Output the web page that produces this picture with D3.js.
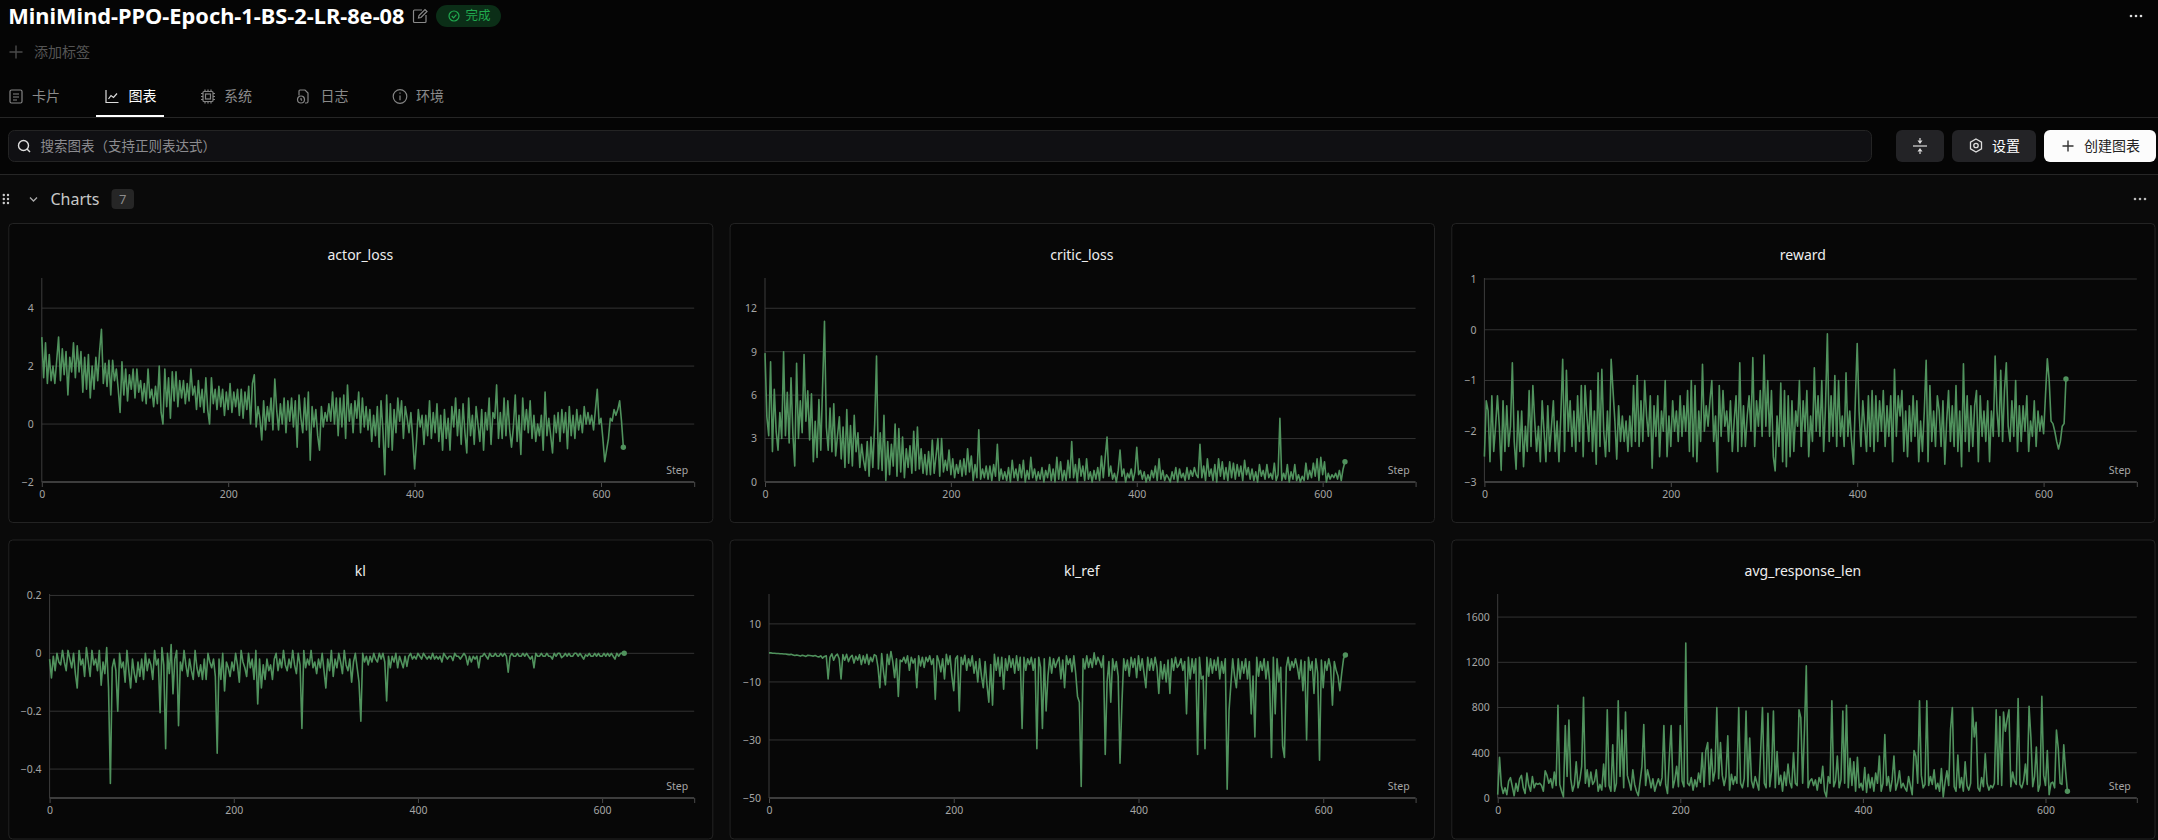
<!DOCTYPE html>
<html>
<head>
<meta charset="utf-8">
<script src="https://cdn.jsdelivr.net/npm/d3@7"></script>
<style>
  html, body { margin: 0; padding: 0; background: #050505; overflow: hidden; }
  svg { display: block; }
  text { font-family: "Noto Sans", "Noto Sans CJK SC", sans-serif; }
  .cjk { font-family: "Noto Sans CJK SC", sans-serif; }
  .axis path.domain { display: none; }
</style>
</head>
<body>
<div id="page"></div>
<script>
// one reading every 2 steps; each row is 50 steps
const actorLoss = [
  3.0,1.6,2.8,1.4,2.4, 1.5,2.0,1.4,2.2,3.0, 1.5,2.6,1.7,2.5,1.0, 2.3,1.8,2.8,1.6,2.7, 1.8,2.5,1.1,2.3,1.2,
  2.4,0.9,2.0,1.2,2.3, 1.5,2.5,3.27,1.4,2.1, 1.3,2.2,1.0,2.2,1.5, 1.9,1.2,0.4,2.15,1.0, 1.9,0.8,1.7,1.2,1.9,
  0.9,1.9,1.1,1.5,0.8, 1.4,0.7,1.9,0.9,1.2, 0.6,1.3,0.7,2.0,0.4, 0.0,1.9,0.6,1.6,0.2, 1.8,0.8,1.8,0.6,1.5,
  0.9,1.5,0.7,1.4,0.8, 1.9,1.0,1.3,0.5,1.5, 0.6,1.2,0.4,1.6,0.5, 0.0,1.6,0.7,1.2,0.5, 1.3,0.6,1.2,0.3,1.1,
  0.5,1.4,0.4,1.1,0.6, 1.2,0.3,1.2,0.2,1.1, 0.5,1.3,0.0,1.4,1.7, -0.1,0.6,0.2,-0.55,0.8, -0.2,0.6,0.1,0.9,-0.2,
  1.55,0.5,-0.2,0.7,0.0, 0.9,-0.3,0.8,0.1,0.9, -0.1,0.8,-0.8,1.0,0.2, -0.3,0.9,-0.2,1.1,-1.25, 0.6,-0.1,0.5,-0.4,-0.9,
  0.6,-0.1,0.4,0.1,0.7, 0.1,1.1,0.0,0.9,-0.4, 0.9,-0.1,1.0,-0.5,1.35, 0.1,0.7,-0.3,0.8,0.2, 1.1,-0.3,0.9,-0.1,0.6,
  -0.2,0.5,-0.6,0.3,-0.4, 0.6,-0.8,0.8,-0.2,-1.75, 1.0,-0.8,0.7,-0.9,0.5, -0.3,0.9,0.1,0.8,-0.5, 0.6,0.2,-0.3,0.4,-0.5,
  -1.55,-0.6,0.5,-0.1,0.3, -0.7,0.3,-0.4,0.8,-0.5, 0.4,-0.3,0.7,-0.6,0.3, -0.9,0.5,-0.5,0.2,-0.9, 0.6,-0.1,0.9,-0.4,0.5,
  -0.7,0.7,-0.3,-1.0,0.9, -0.4,0.3,-0.7,0.6,0.0, -0.6,0.5,-0.9,0.4,-0.2, 0.9,-0.7,0.4,0.2,1.35, -0.5,0.4,-0.5,0.9,-0.4,
  0.8,-0.2,-0.8,-0.1,1.0, -0.6,0.3,-1.05,0.9,-0.2, 0.5,-0.3,0.8,-0.5,0.3, -0.6,0.0,-0.4,0.3,-0.9, 1.1,-0.4,0.2,-0.4,-1.0,
  0.3,-0.3,0.4,-0.6,0.5, -0.3,0.4,-0.85,0.6,-0.4, 0.3,-0.5,0.5,-0.2,0.3, -0.3,0.6,0.0,0.4,0.0, 0.3,-0.2,0.5,1.2,0.0,
  0.2,-0.5,-1.3,-0.9,-0.5, 0.2,0.1,0.5,0.3,0.5, 0.8,0.1,-0.8
];
const criticLoss = [
  8.9,4.5,3.2,8.3,2.1, 6.4,3.5,2.2,4.8,3.0, 9.0,3.2,6.2,2.7,7.2, 3.3,1.1,8.2,3.0,5.6, 3.4,8.8,4.2,6.3,2.9,
  6.1,1.4,4.2,1.7,5.7, 2.2,6.7,11.1,3.8,2.2, 5.1,2.1,5.4,1.8,3.2, 4.5,1.6,3.8,1.0,5.0, 1.3,3.9,1.1,4.6,2.1,
  3.4,1.0,2.6,1.5,0.8, 2.8,0.4,3.1,1.0,4.0, 8.7,0.9,3.4,0.8,4.6, 0.1,2.8,0.5,2.6,1.1, 4.0,0.4,3.7,0.7,3.1,
  0.3,2.3,1.0,2.5,0.6, 3.5,0.8,3.8,0.9,2.3, 0.6,1.9,0.5,2.1,0.5, 2.9,0.6,1.8,3.0,0.4, 3.0,0.7,1.5,0.8,2.2,
  0.5,1.6,0.3,1.2,0.6, 1.5,0.4,1.6,0.5,2.3, 0.7,1.8,0.1,1.2,0.3, 3.6,0.2,0.9,0.3,1.1, 0.2,1.1,0.1,1.2,0.4,
  2.6,0.1,0.9,0.2,0.7, 0.1,1.0,0.0,1.5,0.3, 0.9,0.1,1.2,0.3,1.5, 0.0,0.8,0.2,1.7,0.3, 0.9,0.1,0.7,0.2,1.0,
  0.0,0.8,0.3,1.2,0.1, 0.9,0.0,1.7,0.2,1.4, 0.1,0.8,0.1,1.5,0.3, 2.8,0.3,1.2,0.0,1.6, 0.4,1.1,0.1,1.6,0.2,
  0.7,0.0,0.8,0.2,1.0, 0.1,1.8,0.3,1.7,3.1, 0.4,1.1,0.2,0.6,0.0, 0.8,2.2,0.4,0.9,0.0, 0.6,0.3,0.9,0.1,0.7,
  2.4,0.5,0.8,0.2,0.7, 0.0,0.5,0.1,0.8,0.3, 1.1,0.1,1.6,0.2,0.8, 0.1,0.5,0.3,0.0,0.7, 0.2,1.0,0.0,0.9,0.3,
  0.6,0.1,1.0,0.2,0.8, 0.4,1.0,0.5,0.3,2.6, 0.3,1.1,0.1,1.6,0.4, 0.9,0.1,1.2,0.0,1.6, 0.4,1.4,0.2,1.0,0.1,
  1.4,0.3,1.3,0.2,1.2, 0.4,1.1,0.1,1.5,0.5, 1.0,0.2,0.9,0.1,0.7, 0.0,1.2,0.4,0.8,0.2, 1.2,0.3,0.6,0.2,1.3,
  0.1,0.5,4.4,0.1,0.6, 0.2,1.2,0.0,0.7,0.2, 1.2,0.1,0.5,0.0,0.4, 0.1,1.3,0.2,0.8,0.3, 1.3,0.4,1.6,0.1,1.7,
  0.5,1.4,0.0,0.6,0.2, 0.5,0.3,0.6,0.2,0.8, 0.1,0.9,1.4
];
const rewardValues = [
  -2.5,-1.4,-1.6,-2.6,-1.3, -2.4,-1.9,-1.3,-1.9,-2.77, -1.4,-2.4,-1.5,-2.3,-1.9, -0.65,-2.2,-2.75,-1.6,-2.4, -1.6,-2.7,-1.9,-2.4,-1.2,
  -2.3,-1.1,-1.8,-2.4,-1.9, -2.6,-1.4,-2.0,-2.6,-1.5, -2.4,-1.9,-1.4,-2.4,-1.8, -2.6,-1.7,-0.58,-2.4,-0.8, -2.0,-1.4,-2.3,-1.6,-2.4,
  -1.3,-2.2,-1.1,-2.5,-1.1, -1.7,-2.2,-1.2,-2.4,-1.6, -2.65,-0.85,-2.3,-0.78,-2.0, -2.5,-1.6,-2.4,-0.58,-1.2, -1.8,-2.55,-1.5,-2.2,-1.7,
  -2.2,-1.8,-2.4,-1.7,-2.3, -1.1,-2.2,-0.9,-2.3,-1.4, -2.2,-1.0,-1.7,-2.1,-1.3, -2.73,-1.5,-2.1,-1.3,-2.5, -1.6,-2.0,-1.0,-2.5,-1.7,
  -2.3,-1.4,-2.0,-1.6,-2.2, -1.3,-2.1,-1.5,-2.0,-1.2, -2.4,-1.0,-2.5,-1.1,-2.6, -1.6,-2.2,-0.68,-2.0,-1.5, -1.9,-1.4,-1.0,-2.2,-1.7,
  -2.8,-1.1,-2.1,-1.2,-1.9, -1.6,-2.2,-1.4,-2.4,-1.8, -1.3,-2.4,-0.65,-2.3,-1.5, -2.3,-1.7,-1.3,-2.0,-0.55, -2.3,-1.4,-1.9,-1.2,-2.1,
  -0.5,-1.9,-1.0,-2.1,-1.2, -2.5,-2.78,-1.7,-2.3,-1.05, -2.6,-1.2,-2.7,-1.3,-2.5, -1.4,-2.4,-1.6,-1.9,-1.0, -2.3,-1.4,-2.0,-1.2,-2.5,
  -1.7,-2.2,-0.75,-2.0,-1.3, -2.1,-1.0,-2.4,-1.5,-0.08, -2.2,-1.3,-2.1,-0.9,-2.3, -1.0,-2.1,-1.7,-2.3,-0.85, -2.1,-1.6,-2.2,-2.65,-1.4,
  -0.27,-1.6,-2.3,-1.4,-1.9, -2.4,-1.3,-2.3,-1.2,-2.4, -1.3,-2.2,-1.4,-2.0,-1.2, -2.3,-1.5,-2.1,-1.3,-2.6, -0.78,-2.1,-1.3,-1.7,-1.2,
  -2.4,-1.6,-2.5,-1.5,-2.2, -1.3,-2.1,-1.4,-2.6,-1.8, -2.4,-1.6,-0.6,-2.6,-1.1, -2.2,-1.6,-2.3,-1.3,-1.6, -2.3,-1.4,-2.65,-1.8,-1.2,
  -2.2,-1.5,-2.3,-1.1,-2.4, -1.6,-2.7,-0.67,-2.2,-1.3, -2.4,-1.5,-2.3,-1.5,-1.2, -2.6,-1.3,-2.1,-1.6,-2.2, -1.4,-2.6,-1.6,-2.1,-0.52,
  -1.6,-2.1,-0.8,-2.2,-1.2, -0.65,-1.9,-2.2,-1.4,-2.1, -1.0,-2.4,-1.5,-2.2,-1.5, -2.0,-1.3,-2.4,-1.8,-2.1, -1.4,-2.3,-1.6,-2.0,-1.7,
  -2.05,-1.3,-0.57,-1.0,-1.8, -1.85,-2.0,-2.2,-2.35,-2.2, -1.9,-1.85,-0.97
];
const klValues = [
  -0.02,-0.085,-0.01,-0.06,0, -0.03,-0.04,0.01,-0.03,-0.06, 0.01,-0.02,-0.05,0,-0.07, -0.12,0.01,-0.04,-0.02,-0.08, 0.02,-0.03,-0.08,0.01,-0.04,
  -0.02,-0.06,0.01,-0.11,-0.03, -0.07,0.02,-0.12,-0.45,-0.05, -0.02,-0.06,-0.2,0,-0.05, -0.03,-0.1,0.01,-0.06,-0.12, -0.02,-0.07,-0.1,-0.03,-0.08,
  -0.02,-0.09,0,-0.06,-0.02, -0.04,-0.09,0.01,-0.04,-0.02, -0.205,0.02,-0.04,-0.33,0, -0.07,0.03,-0.14,-0.02,0.01, -0.25,-0.03,-0.06,0.01,-0.04,
  -0.08,-0.02,-0.06,-0.09,0.01, -0.05,-0.08,-0.04,-0.09,-0.02, -0.09,0,-0.03,-0.05,-0.02, -0.08,-0.345,-0.02,-0.09,0, -0.13,-0.03,-0.05,-0.08,-0.03,
  -0.06,0,-0.04,-0.1,0.01, -0.03,-0.05,-0.08,0,-0.05, -0.02,-0.09,0.01,-0.175,-0.02, -0.12,-0.04,-0.09,-0.02,-0.06, -0.04,-0.09,-0.02,0,-0.06,
  -0.02,-0.05,0.01,-0.04,-0.06, -0.02,-0.05,0.01,-0.04,-0.07, 0,-0.04,-0.26,0.01,-0.05, -0.02,-0.04,0.01,-0.05,-0.03, -0.07,-0.02,-0.05,0,-0.06,
  -0.12,-0.02,-0.06,0.01,-0.08, -0.02,-0.05,0,-0.03,-0.07, 0.01,-0.04,-0.06,-0.02,-0.1, -0.03,0,-0.05,-0.1,-0.235, 0,-0.03,-0.01,-0.04,-0.01,
  -0.03,0,-0.02,-0.03,0, -0.02,0,-0.03,-0.165,-0.01, -0.05,-0.01,-0.03,0,-0.05, -0.01,-0.03,-0.05,-0.01,-0.045, -0.01,0,-0.02,-0.01,-0.02,
  0,-0.01,-0.02,0,-0.01, -0.02,-0.01,-0.02,0,-0.02, -0.01,-0.02,-0.01,-0.03,0, -0.01,-0.02,-0.01,-0.01,-0.025, 0,-0.01,-0.01,-0.02,-0.01,
  0,-0.01,-0.04,-0.01,-0.03, -0.01,-0.02,-0.01,-0.05,-0.01, -0.01,0,-0.01,-0.02,0, -0.01,-0.01,0,-0.01,-0.01, 0,-0.01,0,-0.01,-0.065,
  -0.01,0,-0.01,-0.01,0, -0.01,-0.01,0,-0.01,0, -0.01,-0.02,-0.01,-0.05,0, -0.01,-0.01,0,-0.01,-0.01, 0,-0.01,-0.01,-0.02,0,
  -0.01,0,0,-0.015,-0.01, 0,-0.01,0,-0.01,-0.01, 0,0,-0.01,0,-0.01, -0.02,-0.005,-0.01,0,-0.01, -0.01,0,-0.01,0,-0.01,
  -0.01,0,-0.01,0,-0.01, 0,-0.01,-0.02,0,-0.01, 0,0,0
];
const klRef = [
  0,0,-0.1,-0.1,-0.2, -0.2,-0.3,-0.3,-0.4,-0.4, -0.5,-0.6,-0.5,-0.7,-0.9, -0.7,-0.9,-1.1,-0.8,-1, -1.2,-0.8,-0.9,-1,-1.1,
  -0.9,-1.2,-1.4,-1,-1.8, -1.2,-1,-9,-1.5,-0.3, -2.5,-1,-0.4,-2,-9, -0.6,-2.5,-0.5,-3,-1.5, -0.8,-3.5,-1.2,-2.5,-0.6,
  -4,-1,-3.5,-0.5,-4, -1.5,-3,-0.6,-1,-5, -12,-0.2,-6.5,-11,-0.5, -4,0.5,-3,-8.5,-2, -15,-2.5,-3,-1.5,-3.5,
  -1,-6,-1.5,-3.5,-2, -12,-1,-4.5,-1.5,-5, -1.5,-3,-1,-4,-2, -16,-1,-3,-6.5,-2, -9,-0.5,-4,-1,-8,
  -13,-2,-1,-20,-1.5, -4,-0.8,-6,-2,-4.5, -1,-7,-3,-10,-2, -8,-12,-3,-11,-17, -4,-18,-0.5,-6,-1.5,
  -8,-1.5,-12.5,-2,-6, -1,-5,-2,-7,-1, -6,-1.5,-26,-1.5,-6, -2,-4,-1.5,-6,-2, -33,-1.5,-5,-26,-2,
  -20,-8,-1.5,-7,-2, -5,-3,-1.5,-9,-2.5, -12,-1,-4,-2,-6.5, -1,-7,-15,-17,-46, -2,-5.5,-1,-5,-2,
  -5,0,-4,-1.5,-3, -5,-1,-35,-10,-3, -17,-2,-6,-3,-8, -38,-18,-2,-6,-2.5, -8,-1.5,-5,-2,-8.5,
  -1,-6,-2,-7,-12, -1.5,-6,-2,-6,-1.5, -5,-14,-3,-9,-4, -10,-2.5,-14,-2,-6, -1.5,-5,-4,-2,-6,
  -3,-21,-1.5,-9,-2, -7,-2,-35,-1.5,-9, -8,-33,-1.5,-8,-2, -7,-2.5,-6,-1.5,-9, -3,-7,-2,-47,-20,
  -11,-2,-8,-12,-2, -9,-3,-7,-2,-9, -3,-21,-8,-29,-1.5, -8,-3,-6,-2,-9, -3,-10,-36,-1.5,-21,
  -2,-10,-5,-32,-36, -5,-1.5,-6,-3,-5, -2,-5,-9,-2.5,-13, -3,-30,-1.5,-6,-3, -14,-2,-7,-37,-2.5,
  -12,-3,-6,-2,-5, -18,-3,-6,-8,-13, -7,-2,-0.7
];
const avgResponseLen = [
  30,360,110,40,90, 30,150,180,100,20, 130,60,170,200,90, 40,220,110,60,190, 90,130,120,130,110,
  60,240,200,130,170, 90,230,110,820,120, 60,10,640,190,690, 170,60,120,320,90, 160,280,890,130,250,
  100,230,120,150,250, 60,120,70,300,100, 780,110,60,470,60, 130,860,190,600,90, 760,200,140,70,250,
  120,60,20,150,280, 650,110,250,180,90, 170,60,120,170,110, 180,640,120,40,360, 640,90,160,280,100,
  640,150,100,1370,130, 110,180,70,160,100, 220,140,400,100,420, 490,120,430,150,240, 800,170,490,200,110,
  190,550,70,210,120, 190,130,800,130,90, 170,770,100,530,150, 90,190,130,70,410, 800,130,90,750,100,
  240,770,90,410,120, 200,60,230,110,300, 140,90,400,130,110, 780,710,130,600,1170, 90,150,170,110,160,
  70,180,130,280,60, 10,190,130,860,100, 150,370,90,160,770, 130,820,90,350,110, 320,60,360,90,130,
  70,270,50,210,90, 180,60,220,130,370, 60,130,560,110,190, 60,160,370,70,130, 240,90,130,90,60,
  190,110,30,420,370, 130,860,200,90,120, 860,110,190,120,250, 80,130,60,260,10, 140,240,110,610,800,
  100,60,380,90,180, 60,320,110,70,130, 800,540,670,90,60, 180,100,390,130,70, 110,90,130,780,120,
  720,110,760,590,700, 780,100,230,150,120, 880,120,90,150,300, 120,810,540,100,190, 450,60,120,900,200,
  110,420,30,130,140, 90,600,440,130,120, 470,240,60
];
const xTicks = [0, 200, 400, 600, 700];
const actorTicks = [-2, 0, 2, 4];
const criticTicks = [0, 3, 6, 9, 12];
const rewardTicks = [-3, -2, -1, 0, 1];
const klTicks = [-0.4, -0.2, 0, 0.2];
const klRefTicks = [-50, -30, -10, 10];
const lenTicks = [0, 400, 800, 1200, 1600];

const tabs = [
  { label: '卡片', icon: 'card', ix: 16, tx: 32 },
  { label: '图表', icon: 'chart', ix: 112, tx: 128.5, active: true },
  { label: '系统', icon: 'chip', ix: 208, tx: 224 },
  { label: '日志', icon: 'log', ix: 303, tx: 320.5 },
  { label: '环境', icon: 'info', ix: 400, tx: 416 },
];

const lineColor = '#50925d';
const gridColor = '#333';
const axisColor = '#3d3d3d';
const tickColor = '#a5a5a5';
const iconColor = '#858585';

const cards = [
  { title: 'actor_loss', data: actorLoss, ticks: actorTicks, domain: [-2, 5.04], cx: 8.3, cw: 704, cy: 223, x0: 41.8, x1: 694.2, y0: 482, y1: 278 },
  { title: 'critic_loss', data: criticLoss, ticks: criticTicks, domain: [0, 14.09], cx: 729.6, cw: 704.4, cy: 223, x0: 765, x1: 1415.6, y0: 482, y1: 278 },
  { title: 'reward', data: rewardValues, ticks: rewardTicks, domain: [-3, 1.02], cx: 1451.3, cw: 703.2, cy: 223, x0: 1484.4, x1: 2136.8, y0: 482, y1: 278 },
  { title: 'kl', data: klValues, ticks: klTicks, domain: [-0.5, 0.205], cx: 8.3, cw: 704, cy: 539.5, x0: 49.6, x1: 694.2, y0: 798, y1: 594 },
  { title: 'kl_ref', data: klRef, ticks: klRefTicks, domain: [-50, 20.3], cx: 729.6, cw: 704.4, cy: 539.5, x0: 769, x1: 1415.6, y0: 798, y1: 594 },
  { title: 'avg_response_len', data: avgResponseLen, ticks: lenTicks, domain: [0, 1804], cx: 1451.3, cw: 703.2, cy: 539.5, x0: 1497.7, x1: 2136.8, y0: 798, y1: 594 },
];

const svg = d3.select('#page').append('svg').attr('width', 2158).attr('height', 840);

// page chrome
svg.append('rect').attr('width', 2158).attr('height', 174).attr('fill', '#050505');
svg.append('rect').attr('y', 174).attr('width', 2158).attr('height', 666).attr('fill', '#0a0a0a');

const label = (x, y, str, size, fill, opts = {}) => svg.append('text')
  .attr('x', x).attr('y', y)
  .attr('dy', '0.35em')
  .attr('class', opts.cjk ? 'cjk' : null)
  .attr('font-size', size)
  .attr('font-weight', opts.weight || 400)
  .attr('text-anchor', opts.anchor || 'start')
  .attr('fill', fill)
  .text(str);

const stroke = (g, color, w = 1.2) => g.attr('fill', 'none').attr('stroke', color).attr('stroke-width', w);

const plus = (x, y, r, color) => stroke(svg.append('path'), color, 1.4)
  .attr('d', `M${x - r},${y}H${x + r}M${x},${y - r}V${y + r}`);

const threeDots = (x, y, color) => [-5, 0, 5].forEach(dx => {
  svg.append('circle').attr('cx', x + dx).attr('cy', y).attr('r', 1.3).attr('fill', color);
});

const drawIcon = (name, x, y, color) => {
  const g = stroke(svg.append('g').attr('transform', `translate(${x},${y})`), color);
  if (name === 'card') {
    g.append('rect').attr('x', -6).attr('y', -6.5).attr('width', 12).attr('height', 13).attr('rx', 1.5);
    g.append('path').attr('d', 'M-3,-2.5H3M-3,0.5H3M-3,3.5H1');
  } else if (name === 'chart') {
    g.append('path').attr('d', 'M-6,-6.5V6H6.5M-3.5,2.5L-1,-1L1.5,1L5,-3');
  } else if (name === 'chip') {
    g.append('rect').attr('x', -5).attr('y', -5).attr('width', 10).attr('height', 10).attr('rx', 1);
    g.append('rect').attr('x', -2.5).attr('y', -2.5).attr('width', 5).attr('height', 5);
    g.append('path').attr('d', 'M-3,-7V-5M0,-7V-5M3,-7V-5M-3,5V7M0,5V7M3,5V7M-7,-3H-5M-7,0H-5M-7,3H-5M5,-3H7M5,0H7M5,3H7');
  } else if (name === 'log') {
    g.append('path').attr('d', 'M-4,-1V-5.5Q-4,-6.5 -3,-6.5H2L5,-3.5V5Q5,6.5 3.5,6.5H2');
    g.append('circle').attr('cx', -2).attr('cy', 3).attr('r', 3.5);
    g.append('path').attr('d', 'M-2,1.5V3L-1,4');
  } else if (name === 'info') {
    g.append('circle').attr('r', 6.8);
    g.append('path').attr('d', 'M0,-1V3.8M0,-4V-2.8');
  }
};

// header
label(8.3, 16, 'MiniMind-PPO-Epoch-1-BS-2-LR-8e-08', 21.8, '#fff', { weight: 700 });
const edit = stroke(svg.append('g').attr('transform', 'translate(420,16)'), '#8a8a8a');
edit.append('path').attr('d', 'M2,-6H-5.5Q-6.5,-6 -6.5,-5V5.5Q-6.5,6.5 -5.5,6.5H5Q6,6.5 6,5.5V-1');
edit.append('path').attr('d', 'M-1.5,2L-1,-0.5L5,-6.5L7,-4.5L1,1.5Z');

svg.append('rect').attr('x', 436).attr('y', 5).attr('width', 65).attr('height', 22).attr('rx', 11).attr('fill', '#0b2e17');
stroke(svg.append('circle'), '#21a94f').attr('cx', 454).attr('cy', 16).attr('r', 5);
stroke(svg.append('path'), '#21a94f').attr('d', 'M451.8,16L453.6,17.8L456.4,14.6');
label(465.5, 16, '完成', 12.5, '#21a94f', { cjk: true });
threeDots(2136, 16, '#ddd');

plus(16, 52, 6.5, '#4a4a4a');
label(34, 52, '添加标签', 14, '#555', { cjk: true });

tabs.forEach(t => {
  drawIcon(t.icon, t.ix, 96.5, t.active ? '#ddd' : iconColor);
  label(t.tx, 96.5, t.label, 14, t.active ? '#fff' : '#8a8a8a', { cjk: true });
});
svg.append('rect').attr('x', 0).attr('y', 117).attr('width', 2158).attr('height', 1).attr('fill', '#262626');
svg.append('rect').attr('x', 96).attr('y', 115).attr('width', 68).attr('height', 2).attr('fill', '#fff');

// search row
svg.append('rect').attr('x', 8.5).attr('y', 130.5).attr('width', 1863).attr('height', 31).attr('rx', 6)
  .attr('fill', '#101013').attr('stroke', '#242424');
stroke(svg.append('circle'), '#ddd', 1.4).attr('cx', 23.5).attr('cy', 145.5).attr('r', 5);
stroke(svg.append('path'), '#ddd', 1.4).attr('d', 'M27,149L30,152');
label(40.4, 146, '搜索图表（支持正则表达式）', 13.5, '#8c8c90', { cjk: true });

svg.append('rect').attr('x', 1896).attr('y', 130).attr('width', 48).attr('height', 32).attr('rx', 6).attr('fill', '#232326');
stroke(svg.append('path'), '#ddd', 1.2).attr('d', 'M1913,146H1927');
svg.append('path').attr('fill', '#ddd').attr('d', 'M1920,144L1917.5,140.5H1922.5ZM1920,148L1917.5,151.5H1922.5Z');
stroke(svg.append('path'), '#ddd').attr('d', 'M1920,138V140.5M1920,151.5V154');

svg.append('rect').attr('x', 1952).attr('y', 130).attr('width', 84).attr('height', 32).attr('rx', 6).attr('fill', '#232326');
stroke(svg.append('path'), '#ddd', 1.3)
  .attr('d', 'M1976,139L1981.5,142.2V148.8L1976,152L1970.5,148.8V142.2Z');
stroke(svg.append('circle'), '#ddd', 1.3).attr('cx', 1976).attr('cy', 145.5).attr('r', 2.2);
label(1992, 146, '设置', 14, '#fff', { cjk: true });

svg.append('rect').attr('x', 2044).attr('y', 130).attr('width', 112).attr('height', 32).attr('rx', 6).attr('fill', '#fcfcfc');
plus(2068, 146, 5.5, '#333');
label(2084, 146, '创建图表', 14, '#222', { cjk: true });

svg.append('rect').attr('x', 0).attr('y', 174).attr('width', 2158).attr('height', 1).attr('fill', '#262626');

// section title
[-4, 0, 4].forEach(dy => [3.8, 8].forEach(x => {
  svg.append('circle').attr('cx', x).attr('cy', 199 + dy).attr('r', 1.2).attr('fill', '#ccc');
}));
stroke(svg.append('path'), '#aaa', 1.3).attr('d', 'M30,197.5L33.5,201L37,197.5');
label(50.5, 199.5, 'Charts', 16, '#c8c8c8');
svg.append('rect').attr('x', 111.5).attr('y', 189).attr('width', 22.5).attr('height', 20).attr('rx', 4).attr('fill', '#262626');
label(122.7, 199.5, '7', 13, '#8c8c8c', { anchor: 'middle' });
threeDots(2140, 199, '#bbb');

// one small chart per card
const drawChart = c => {
  const x = d3.scaleLinear().domain([0, 700]).range([c.x0, c.x1]);
  const y = d3.scaleLinear().domain(c.domain).range([c.y0, c.y1]);
  const g = svg.append('g');

  g.append('rect')
    .attr('x', c.cx + 0.5).attr('y', c.cy + 0.5)
    .attr('width', c.cw).attr('height', 299).attr('rx', 4)
    .attr('fill', '#070707').attr('stroke', '#232323');

  g.append('text')
    .attr('x', c.cx + c.cw / 2).attr('y', c.cy + 32).attr('dy', '0.35em')
    .attr('text-anchor', 'middle').attr('fill', '#eee').attr('font-size', 14)
    .text(c.title);

  const yAxis = g.append('g').attr('class', 'axis')
    .attr('transform', `translate(${c.x0},0)`)
    .call(d3.axisLeft(y).tickValues(c.ticks).tickSize(0).tickPadding(8).tickFormat(d3.format('')));
  yAxis.selectAll('text').attr('fill', tickColor).attr('font-size', 10.5);

  g.selectAll('.grid').data(c.ticks.filter(d => y(d) < c.y0 - 1)).join('line')
    .attr('class', 'grid')
    .attr('x1', c.x0).attr('x2', c.x1)
    .attr('y1', d => y(d)).attr('y2', d => y(d))
    .attr('stroke', gridColor);

  g.append('line').attr('x1', c.x0).attr('x2', c.x0).attr('y1', c.y1).attr('y2', c.y0).attr('stroke', axisColor);

  const xAxis = g.append('g').attr('class', 'axis')
    .attr('transform', `translate(0,${c.y0})`)
    .call(d3.axisBottom(x).tickValues(xTicks).tickSize(5).tickPadding(4)
      .tickFormat(d => (d === 700 ? '' : d)));
  xAxis.selectAll('line').attr('stroke', '#4a4a4a');
  xAxis.selectAll('text').attr('fill', tickColor).attr('font-size', 10.5);
  g.append('line').attr('x1', c.x0).attr('x2', c.x1).attr('y1', c.y0).attr('y2', c.y0)
    .attr('stroke', axisColor).attr('stroke-width', 2);

  g.append('text')
    .attr('x', c.x1 - 6).attr('y', c.y0 - 11.5).attr('dy', '0.35em')
    .attr('text-anchor', 'end').attr('fill', tickColor).attr('font-size', 10.5)
    .text('Step');

  const points = c.data.map((v, i) => [i * 2, v]);
  const line = d3.line().x(d => x(d[0])).y(d => y(d[1]));
  g.append('path').datum(points)
    .attr('d', line)
    .attr('fill', 'none').attr('stroke', lineColor).attr('stroke-width', 1.6)
    .attr('stroke-linejoin', 'round');

  const last = points[points.length - 1];
  g.append('circle').attr('cx', x(last[0])).attr('cy', y(last[1])).attr('r', 2.7).attr('fill', lineColor);
};

cards.forEach(drawChart);
</script>
</body>
</html>
